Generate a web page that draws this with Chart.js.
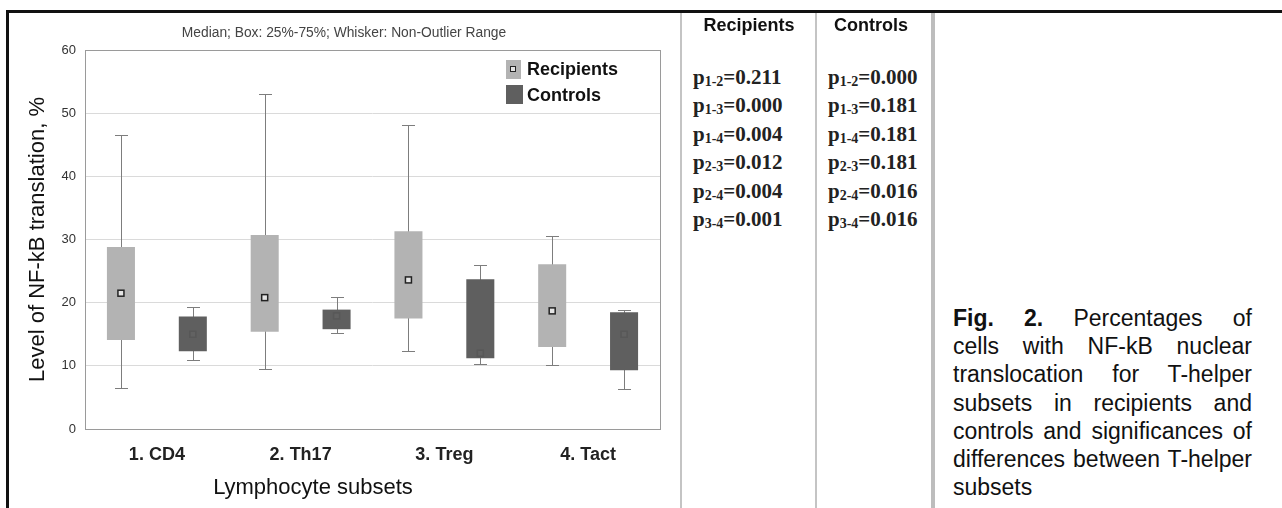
<!DOCTYPE html>
<html>
<head>
<meta charset="utf-8">
<script src="https://cdn.jsdelivr.net/npm/chart.js@4.4.0/dist/chart.umd.min.js"></script>
<style>
  body { margin: 0; background: #fff; font-family: "Liberation Sans", Arial, sans-serif; color: #111; }
  #page { position: relative; width: 1282px; height: 508px; overflow: hidden; background: #fff; }
  .abs { position: absolute; }
  .vline { top: 13px; height: 495px; background: #c4c4c4; }
  .center { text-align: center; white-space: nowrap; }
  .hdr { top: 15px; width: 200px; font-weight: bold; font-size: 18px; line-height: 20px; }
  .pcol { top: 63px; font-family: "Liberation Serif", "Times New Roman", serif; font-weight: bold;
          font-size: 21px; line-height: 28.4px; color: #222; white-space: nowrap; }
  .pcol div { height: 28.4px; }
  .pcol .sub { font-size: 14px; position: relative; top: 2px; }
  #caption { left: 953px; top: 304px; width: 299px; font-size: 23px; line-height: 28.2px; color: #111; }
  #caption div { text-align: justify; text-align-last: justify; }
  #caption div.last { text-align-last: left; }
  .swatch { width: 15px; height: 19px; }
  .legText { left: 527px; font-weight: bold; font-size: 18px; line-height: 20px; white-space: nowrap; }
</style>
</head>
<body>
<div id="page">
  <!-- frame -->
  <div class="abs" style="left:6px;top:10px;width:1276px;height:3px;background:#111"></div>
  <div class="abs" style="left:6px;top:10px;width:3px;height:498px;background:#111"></div>
  <div class="abs vline" style="left:680px;width:2px"></div>
  <div class="abs vline" style="left:815px;width:2px"></div>
  <div class="abs vline" style="left:931px;width:4px;background:#bdbdbd"></div>

  <!-- chart -->
  <div class="abs" style="left:9px;top:13px;width:671px;height:495px"><canvas id="boxChart"></canvas></div>
  <div class="abs center" style="left:144px;top:25px;width:400px;font-size:13.8px;line-height:16px;color:#444">Median; Box: 25%-75%; Whisker: Non-Outlier Range</div>
  <div class="abs center" style="left:163px;top:474px;width:300px;font-size:22px;line-height:26px">Lymphocyte subsets</div>

  <!-- legend -->
  <div class="abs swatch" style="left:506px;top:60px;background:#b3b3b3"></div>
  <div class="abs" style="left:510px;top:66px;width:4px;height:4px;border:1.5px solid #222;background:#e4e4e4"></div>
  <div class="abs swatch" style="left:506px;top:85px;width:17px;background:#5f5f5f"></div>
  <div class="abs legText" style="top:59px">Recipients</div>
  <div class="abs legText" style="top:85px">Controls</div>

  <!-- significance table -->
  <div class="abs center hdr" style="left:649px">Recipients</div>
  <div class="abs center hdr" style="left:771px">Controls</div>
  <div class="abs pcol" id="pRec" style="left:693px"></div>
  <div class="abs pcol" id="pCtrl" style="left:828px"></div>

  <div class="abs" id="caption"></div>
</div>

<script>
const categories = ["1. CD4", "2. Th17", "3. Treg", "4. Tact"];

// recipients: whisker min, box 25%, median, box 75%, whisker max
const recMin = [6.5, 9.5, 12.3, 10.1];
const recQ1  = [14.1, 15.4, 17.5, 13.0];
const recMed = [21.5, 20.8, 23.6, 18.7];
const recQ3  = [28.8, 30.7, 31.3, 26.1];
const recMax = [46.5, 53.0, 48.2, 30.5];

// controls
const ctrlMin = [11.0, 15.2, 10.3, 6.3];
const ctrlQ1  = [12.3, 15.8, 11.2, 9.3];
const ctrlMed = [15.0, 17.9, 12.0, 15.0];
const ctrlQ3  = [17.8, 18.9, 23.7, 18.5];
const ctrlMax = [19.3, 20.9, 25.9, 18.9];

const yTicks = [0, 10, 20, 30, 40, 50, 60];

// p-values between subsets
const pairs = ["1-2", "1-3", "1-4", "2-3", "2-4", "3-4"];
const pRecipients = ["0.211", "0.000", "0.004", "0.012", "0.004", "0.001"];
const pControls = ["0.000", "0.181", "0.181", "0.181", "0.016", "0.016"];

const captionLines = [
    "<b>Fig. 2.</b> Percentages of",
    "cells with NF-kB nuclear",
    "translocation for T-helper",
    "subsets in recipients and",
    "controls and significances of",
    "differences between T-helper",
    "subsets"
];

function fillPCol(id, values) {
    const el = document.getElementById(id);
    pairs.forEach((pr, i) => {
        const row = document.createElement("div");
        row.innerHTML = 'p<span class="sub">' + pr + '</span>=' + values[i];
        el.appendChild(row);
    });
}
fillPCol("pRec", pRecipients);
fillPCol("pCtrl", pControls);

const cap = document.getElementById("caption");
captionLines.forEach((line, i) => {
    const d = document.createElement("div");
    d.innerHTML = line;
    if (i === captionLines.length - 1) d.className = "last";
    cap.appendChild(d);
});

// whiskers + median squares drawn from the bar elements' positions
const boxWhiskers = {
    id: "boxWhiskers",
    beforeDatasetsDraw(chart) {
        const { ctx, scales: { y } } = chart;
        ctx.save();
        ctx.strokeStyle = "#7d7d7d";
        ctx.lineWidth = 1;
        chart.data.datasets.forEach((ds, di) => {
            chart.getDatasetMeta(di).data.forEach((bar, i) => {
                const x = Math.round(bar.x) + 0.5;
                const y0 = Math.round(y.getPixelForValue(ds.whiskerMin[i])) + 0.5;
                const y1 = Math.round(y.getPixelForValue(ds.whiskerMax[i])) + 0.5;
                ctx.beginPath();
                ctx.moveTo(x, y0); ctx.lineTo(x, y1);
                ctx.moveTo(x - 6.5, y0); ctx.lineTo(x + 6.5, y0);
                ctx.moveTo(x - 6.5, y1); ctx.lineTo(x + 6.5, y1);
                ctx.stroke();
            });
        });
        ctx.restore();
    },
    afterDatasetsDraw(chart) {
        const { ctx, scales: { y }, chartArea: a } = chart;
        ctx.save();
        chart.data.datasets.forEach((ds, di) => {
            chart.getDatasetMeta(di).data.forEach((bar, i) => {
                const x = bar.x, ym = y.getPixelForValue(ds.median[i]);
                ctx.fillStyle = ds.markerFill;
                ctx.strokeStyle = ds.markerLine;
                ctx.lineWidth = 1.5;
                ctx.fillRect(x - 3, ym - 3, 6, 6);
                ctx.strokeRect(x - 3, ym - 3, 6, 6);
            });
        });
        // plot frame
        ctx.strokeStyle = "#9a9a9a";
        ctx.lineWidth = 1;
        ctx.strokeRect(Math.round(a.left) + 0.5, Math.round(a.top) + 0.5,
            Math.round(a.right - a.left), Math.round(a.bottom - a.top));
        ctx.restore();
    }
};

Chart.defaults.font.family = '"Liberation Sans", Arial, sans-serif';

new Chart(document.getElementById("boxChart"), {
    type: "bar",
    data: {
        labels: categories,
        datasets: [
            {
                label: "Recipients",
                data: categories.map((c, i) => [recQ1[i], recQ3[i]]),
                backgroundColor: "#b3b3b3",
                whiskerMin: recMin, whiskerMax: recMax, median: recMed,
                markerFill: "#e4e4e4", markerLine: "#222"
            },
            {
                label: "Controls",
                data: categories.map((c, i) => [ctrlQ1[i], ctrlQ3[i]]),
                backgroundColor: "#5f5f5f",
                whiskerMin: ctrlMin, whiskerMax: ctrlMax, median: ctrlMed,
                markerFill: "#626262", markerLine: "#585858"
            }
        ]
    },
    options: {
        responsive: true,
        maintainAspectRatio: false,
        animation: false,
        layout: { padding: { top: 37, right: 20, left: 0, bottom: 0 } },
        datasets: { bar: { barPercentage: 0.39, categoryPercentage: 1.0, borderSkipped: false, borderWidth: 0 } },
        plugins: { legend: { display: false }, tooltip: { enabled: false } },
        scales: {
            x: {
                grid: { display: false },
                border: { display: false },
                ticks: { color: "#222", font: { size: 18, weight: "bold" }, padding: 7 },
                afterFit: s => { s.height = 79; }
            },
            y: {
                min: 0, max: 60,
                afterBuildTicks: s => { s.ticks = yTicks.map(v => ({ value: v })); },
                ticks: { color: "#333", font: { size: 13 }, padding: 9 },
                grid: { color: "#dadada", drawTicks: false },
                border: { display: false },
                title: {
                    display: true, text: "Level of NF-kB translation, %",
                    color: "#111", font: { size: 22 }, padding: { top: 16, bottom: 0 }
                },
                afterFit: s => { s.width = 76; }
            }
        }
    },
    plugins: [boxWhiskers]
});
</script>
</body>
</html>
